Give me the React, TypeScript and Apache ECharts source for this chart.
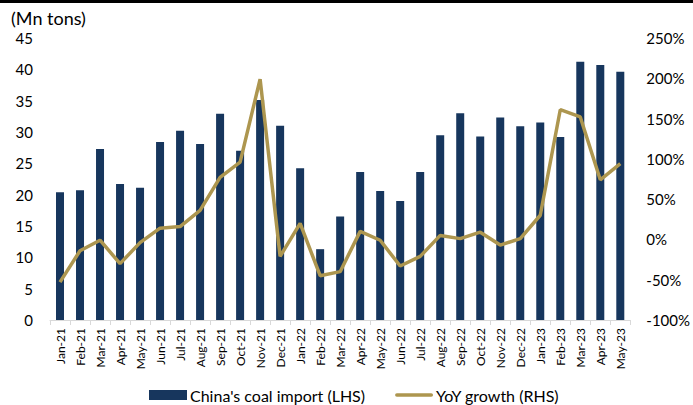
import React, { useEffect, useRef } from "react";
import * as echarts from "echarts";

const months = [
  "Jan-21", "Feb-21", "Mar-21", "Apr-21", "May-21", "Jun-21", "Jul-21", "Aug-21", "Sep-21", "Oct-21", "Nov-21", "Dec-21",
  "Jan-22", "Feb-22", "Mar-22", "Apr-22", "May-22", "Jun-22", "Jul-22", "Aug-22", "Sep-22", "Oct-22", "Nov-22", "Dec-22",
  "Jan-23", "Feb-23", "Mar-23", "Apr-23", "May-23",
];

const coalImport = [
  20.4, 20.7, 27.3, 21.7, 21.1, 28.4, 30.2, 28.1, 32.9, 27.0, 35.1, 31.0,
  24.2, 11.3, 16.5, 23.6, 20.6, 19.0, 23.6, 29.5, 33.0, 29.3, 32.3, 30.9,
  31.5, 29.2, 41.2, 40.7, 39.6,
];

const yoyGrowth = [
  -53, -14, -1, -30, -4, 14, 16, 36, 77, 96, 199, -21,
  20, -45, -40, 10, -1, -33, -21, 5, 1, 9, -7, 1,
  30, 161, 152, 74, 94,
];

const leftTicks = { min: 0, max: 45, interval: 5 };
const rightTicks = { min: -100, max: 250, interval: 50 };

const FONT = "Lato";
const NAVY = "#17365D";
const GOLD = "#AD964F";

export default function App() {
  const ref = useRef<HTMLDivElement>(null);
  useEffect(() => {
    if (!ref.current) return;
    const chart = echarts.init(ref.current, undefined, { renderer: "svg" });
    chart.setOption({
      animation: false,
      backgroundColor: "#ffffff",
      textStyle: { fontFamily: FONT },
      graphic: [
        { type: "rect", left: 0, top: 0, shape: { width: 693, height: 3 }, style: { fill: "#000" } },
        {
          type: "text",
          left: 11,
          top: 9,
          style: { text: "(Mn tons)", fontFamily: FONT, fontSize: 18, fill: "#000" },
        },
      ],
      grid: { left: 50, right: 61, top: 38, bottom: 85 },
      legend: {
        left: 149,
        top: 387,
        padding: 0,
        itemGap: 30,
        itemWidth: 38,
        itemHeight: 10,
        textStyle: { fontFamily: FONT, fontSize: 16, color: "#000", padding: [0, 0, 0, -2] },
        data: [
          { name: "China's coal import (LHS)", icon: "rect" },
          { name: "YoY growth (RHS)", icon: "path://M2,0 H40 A2,2 0 0 1 40,4 H2 A2,2 0 0 1 2,0 Z" },
        ],
      },
      xAxis: {
        type: "category",
        data: months,
        axisLine: { lineStyle: { color: "#D9D9D9", width: 1 } },
        axisTick: { show: true, alignWithLabel: false, length: 5, lineStyle: { color: "#D9D9D9" } },
        axisLabel: {
          rotate: 90,
          interval: 0,
          fontFamily: FONT,
          fontSize: 12,
          color: "#000",
          margin: 8,
        },
      },
      yAxis: [
        {
          type: "value",
          ...leftTicks,
          axisLine: { show: false },
          axisTick: { show: false },
          splitLine: { show: false },
          axisLabel: { fontFamily: FONT, fontSize: 15, color: "#000", margin: 17 },
        },
        {
          type: "value",
          ...rightTicks,
          position: "right",
          axisLine: { show: false },
          axisTick: { show: false },
          splitLine: { show: false },
          axisLabel: { fontFamily: FONT, fontSize: 15, color: "#000", margin: 16, formatter: "{value}%" },
        },
      ],
      series: [
        {
          name: "China's coal import (LHS)",
          type: "bar",
          data: coalImport,
          barWidth: 8,
          itemStyle: { color: NAVY },
          yAxisIndex: 0,
        },
        {
          name: "YoY growth (RHS)",
          type: "line",
          data: yoyGrowth,
          yAxisIndex: 1,
          symbol: "none",
          lineStyle: { color: GOLD, width: 3.5 },
          itemStyle: { color: GOLD },
        },
      ],
    });
    return () => chart.dispose();
  }, []);
  return (
    <div
      ref={ref}
      style={{ position: "fixed", left: 0, top: 0, width: 693, height: 405 }}
    />
  );
}
